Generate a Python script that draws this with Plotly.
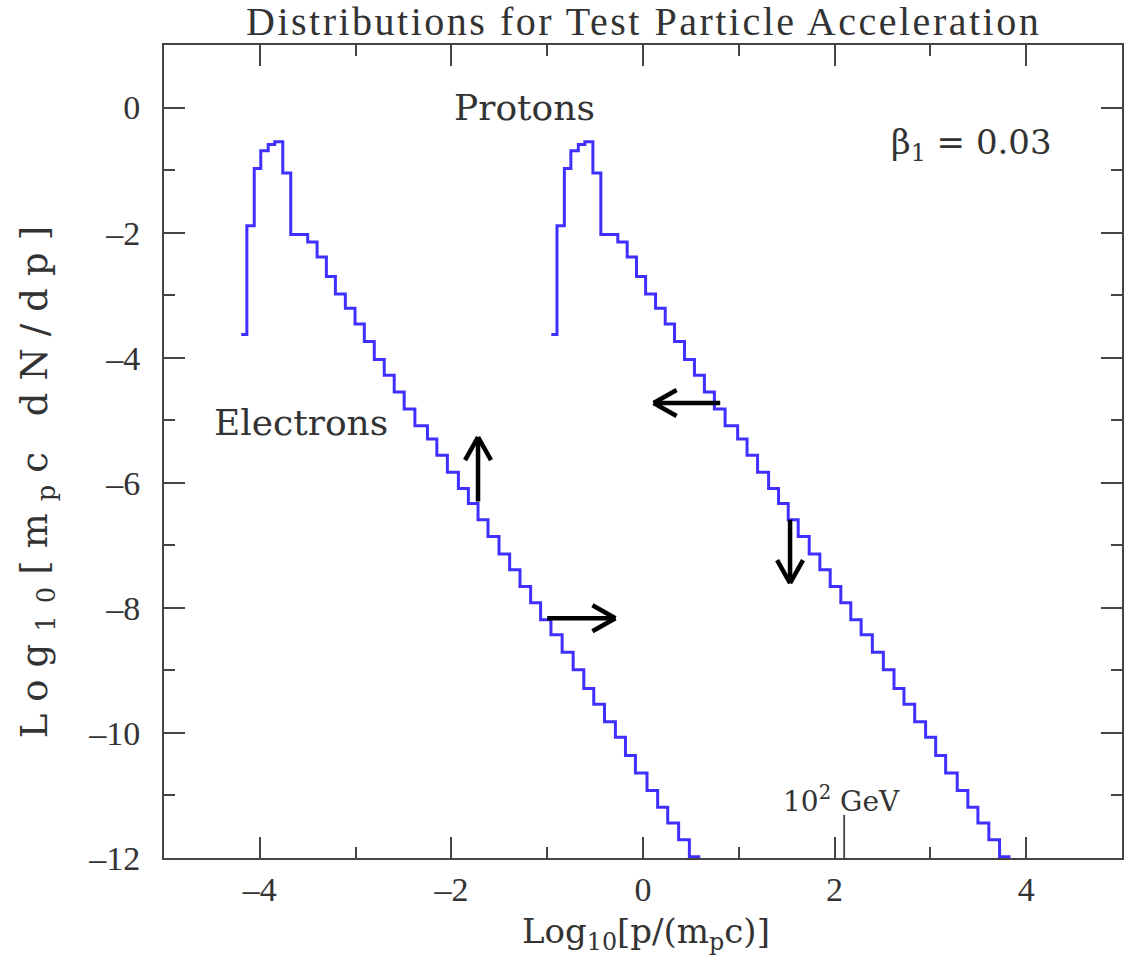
import plotly.graph_objects as go

# ---------------- data ----------------
# Electron spectrum: histogram bin edges in log10[p/(m_p c)] and bin values log10[m_p c dN/dp]
electron_logp_edges = [
    -4.194, -4.135, -4.058, -3.990, -3.912, -3.844, -3.760, -3.677, -3.500,
    -3.402, -3.305, -3.211, -3.107, -3.006, -2.909, -2.805, -2.701, -2.597,
    -2.493, -2.381, -2.250, -2.152, -2.042, -1.927, -1.823, -1.722, -1.618,
    -1.503, -1.392, -1.284, -1.173, -1.069, -0.961, -0.844, -0.729, -0.618,
    -0.514, -0.402, -0.288, -0.183, -0.079, 0.042, 0.153, 0.258, 0.372,
    0.484, 0.598,
]
electron_log_dndp = [
    -3.63, -1.89, -0.976, -0.69, -0.592, -0.549, -1.045, -2.03,
    -2.15, -2.39, -2.70, -2.98, -3.21, -3.46, -3.74, -4.03, -4.28,
    -4.55, -4.82, -5.09, -5.30, -5.56, -5.83, -6.09, -6.33, -6.59,
    -6.86, -7.14, -7.39, -7.66, -7.92, -8.19, -8.43, -8.71, -8.99,
    -9.29, -9.54, -9.82, -10.07, -10.36, -10.64, -10.92, -11.19, -11.44,
    -11.71, -11.98,
]

# Proton spectrum
proton_logp_edges = [
    -0.957, -0.898, -0.821, -0.753, -0.675, -0.607, -0.523, -0.440, -0.263,
    -0.165, -0.068, 0.027, 0.131, 0.232, 0.329, 0.433, 0.537, 0.641,
    0.745, 0.857, 0.988, 1.086, 1.196, 1.311, 1.415, 1.516, 1.620,
    1.735, 1.846, 1.954, 2.065, 2.169, 2.277, 2.394, 2.509, 2.620,
    2.724, 2.836, 2.950, 3.055, 3.159, 3.280, 3.391, 3.496, 3.610,
    3.722, 3.836,
]
proton_log_dndp = [
    -3.63, -1.89, -0.976, -0.69, -0.592, -0.549, -1.045, -2.03,
    -2.15, -2.39, -2.70, -2.98, -3.21, -3.46, -3.74, -4.03, -4.28,
    -4.55, -4.82, -5.09, -5.30, -5.56, -5.83, -6.09, -6.33, -6.59,
    -6.86, -7.14, -7.39, -7.66, -7.92, -8.19, -8.43, -8.71, -8.99,
    -9.29, -9.54, -9.82, -10.07, -10.36, -10.64, -10.92, -11.19, -11.44,
    -11.71, -11.98,
]

# Arrows: (x_start, y_start, x_end, y_end) in data units
arrow_starts_x = [-1.722, -1.000, 0.806, 1.535]
arrow_starts_y = [-6.30, -8.165, -4.725, -6.59]
arrow_ends_x = [-1.722, -0.288, 0.111, 1.535]
arrow_ends_y = [-5.27, -8.165, -4.725, -7.605]

# 10^2 GeV marker
gev_marker_x = 2.10
gev_marker_y = [-12.0, -11.31]

# Axis ticks
x_tick_vals = [-4, -2, 0, 2, 4]
x_tick_text = ["\u20134", "\u20132", "0", "2", "4"]
x_minor_vals = [-5, -3, -1, 1, 3, 5]
y_tick_vals = [0, -2, -4, -6, -8, -10, -12]
y_tick_text = ["0", "\u20132", "\u20134", "\u20136", "\u20138", "\u201310", "\u201312"]
y_minor_vals = [1, -1, -3, -5, -7, -9, -11]

X_RANGE = [-5, 5]
Y_RANGE = [-12, 1]

# ---------------- layout constants ----------------
W, H = 1130, 956
ML, MR, MT, MB = 164, 6, 45, 98
PW, PH = W - ML - MR, H - MT - MB
SX = PW / (X_RANGE[1] - X_RANGE[0])
SY = PH / (Y_RANGE[1] - Y_RANGE[0])

LINE_BLUE = "#3f30ff"
FRAME = "#444444"
TEXT = "#333333"
SERIF = "DejaVu Serif"
TICKFONT = "Liberation Serif"


def steps(edges, vals):
    xs = list(edges)
    ys = list(vals) + [vals[-1]]
    return xs, ys


fig = go.Figure()

for edges, vals in [(electron_logp_edges, electron_log_dndp), (proton_logp_edges, proton_log_dndp)]:
    xs, ys = steps(edges, vals)
    fig.add_trace(go.Scatter(x=xs, y=ys, mode="lines", line=dict(color=LINE_BLUE, width=3, shape="hv"),
                             hoverinfo="skip", showlegend=False))

# arrows with open chevron heads
ax_, ay_ = [], []
head_back, head_side = 23.0, 13.0
for x0, y0, x1, y1 in zip(arrow_starts_x, arrow_starts_y, arrow_ends_x, arrow_ends_y):
    ax_ += [x0, x1, None]
    ay_ += [y0, y1, None]
    dx, dy = (x1 - x0) * SX, (y1 - y0) * SY
    n = (dx * dx + dy * dy) ** 0.5
    ux, uy = dx / n, dy / n
    px, py = -uy, ux
    for s in (1, -1):
        bx = x1 + (-ux * head_back + s * px * head_side) / SX
        by = y1 + (-uy * head_back + s * py * head_side) / SY
        ax_ += [bx, x1, None]
        ay_ += [by, y1, None]
fig.add_trace(go.Scatter(x=ax_, y=ay_, mode="lines", line=dict(color="black", width=4.5),
                         hoverinfo="skip", showlegend=False))

# 10^2 GeV marker line
fig.add_trace(go.Scatter(x=[gev_marker_x, gev_marker_x], y=gev_marker_y, mode="lines",
                         line=dict(color=FRAME, width=1.8), hoverinfo="skip", showlegend=False))

axis_common = dict(
    showline=True, mirror="ticks", linecolor=FRAME, linewidth=2,
    ticks="inside", ticklen=21, tickwidth=1.6, tickcolor=FRAME,
    showgrid=False, zeroline=False,
    tickfont=dict(family=TICKFONT, size=34, color=TEXT),
)

fig.update_xaxes(range=X_RANGE, tickmode="array", tickvals=x_tick_vals, ticktext=x_tick_text,
                 ticklabelstandoff=0,
                 minor=dict(ticks="inside", ticklen=11, tickwidth=1.6, tickcolor=FRAME,
                            tickmode="array", tickvals=x_minor_vals),
                 **axis_common)
fig.update_yaxes(range=Y_RANGE, tickmode="array", tickvals=y_tick_vals, ticktext=y_tick_text,
                 ticklabelstandoff=15,
                 minor=dict(ticks="inside", ticklen=11, tickwidth=1.6, tickcolor=FRAME,
                            tickmode="array", tickvals=y_minor_vals),
                 **axis_common)

# the reference y label is stretched along its length: widen it with letter spacing
y_label = '<span style="letter-spacing:12px">Log<sub>10</sub>[m<sub>p</sub>c dN/dp]</span>'
title_text = '<span style="letter-spacing:2.5px">Distributions for Test Particle Acceleration</span>'

annotations = [
    dict(text=title_text, xref="paper", yref="paper",
         x=(645 - ML) / PW, y=1 + (MT - 22) / PH, showarrow=False, xanchor="center", yanchor="middle",
         font=dict(family=TICKFONT, size=40, color=TEXT)),
    dict(text="Log<sub>10</sub>[p/(m<sub>p</sub>c)]", xref="paper", yref="paper",
         x=(647 - ML) / PW, y=-(933 - MT - PH) / PH, showarrow=False, xanchor="center", yanchor="middle",
         font=dict(family=SERIF, size=34, color=TEXT)),
    dict(text=y_label, xref="paper", yref="paper",
         x=-(ML - 37) / PW, y=1 - (476 - MT) / PH, showarrow=False, xanchor="center", yanchor="middle",
         textangle=-90, font=dict(family=SERIF, size=37, color=TEXT)),
    dict(text="Protons", x=-1.232, y=0.0, showarrow=False, xanchor="center", yanchor="middle",
         font=dict(family=SERIF, size=36, color=TEXT)),
    dict(text="Electrons", x=-3.574, y=-5.04, showarrow=False, xanchor="center", yanchor="middle",
         font=dict(family=SERIF, size=36, color=TEXT)),
    dict(text="\u03b2<sub>1</sub> = 0.03", x=3.43, y=-0.59, showarrow=False, xanchor="center", yanchor="middle",
         font=dict(family=SERIF, size=34, color=TEXT)),
    dict(text="10<sup>2</sup> GeV", x=2.07, y=-11.07, showarrow=False, xanchor="center", yanchor="middle",
         font=dict(family=SERIF, size=28, color=TEXT)),
]

fig.update_layout(
    width=W, height=H,
    margin=dict(l=ML, r=MR, t=MT, b=MB),
    paper_bgcolor="white", plot_bgcolor="white",
    annotations=annotations,
    showlegend=False,
)

fig.write_html("out.html", config={"displayModeBar": False},
               post_script="document.body.style.margin='0';document.body.style.overflow='hidden';")
